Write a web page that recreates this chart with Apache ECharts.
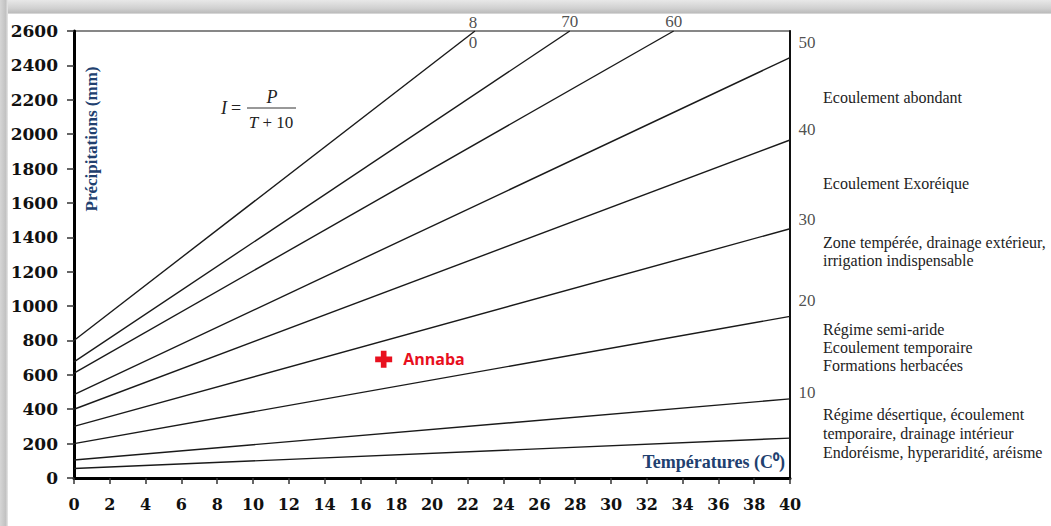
<!DOCTYPE html>
<html>
<head>
<meta charset="utf-8">
<script src="https://cdn.jsdelivr.net/npm/echarts@6/dist/echarts.min.js"></script>
<style>
html,body{margin:0;padding:0;background:#fff;}
#wrap{position:relative;width:1051px;height:526px;overflow:hidden;background:#fff;}
#topband{position:absolute;left:0;top:0;width:1051px;height:14px;background:linear-gradient(to bottom,#e8e8e8 0%,#d0d0d0 60%,#bdbdbd 90%,#e4e4e4 100%);}
#leftband{position:absolute;left:0;top:0;width:8px;height:526px;background:linear-gradient(to right,#d6d6d6 0%,#c2c2c2 70%,#e8e8e8 100%);}
#chart{position:absolute;left:0;top:0;width:1051px;height:526px;}
</style>
</head>
<body>
<div id="wrap">
  <div id="topband"></div>
  <div id="leftband"></div>
  <div id="chart"></div>
</div>
<script>
// De Martonne aridity index lines I = P / (T + 10)
const indexValues  = [80, 70, 60, 50, 40, 30, 20, 10, 5];
const startTemp    = [0, 0, 0, 0, 0, 0, 0, 0, 0];
const startPrecip  = [800, 675, 610, 485, 400, 300, 200, 105, 55];
const endTemp      = [22.4, 27.7, 33.5, 40, 40, 40, 40, 40, 40];
const endPrecip    = [2600, 2600, 2600, 2445, 1966, 1450, 940, 460, 232];

// labels of the lines that leave through the top border
const topLabelText = ['8\n0', '70', '60'];
// index labels on the right side
const sideLabelText   = ['50', '40', '30', '20', '10'];
const sideLabelPrecip = [2535, 2025, 1505, 1035, 500];

// station
const stationName   = 'Annaba';
const stationTemp   = 17.3;
const stationPrecip = 690;

// zone descriptions (right margin)
const zoneTexts = [
  'Ecoulement abondant',
  'Ecoulement Exoréique',
  'Zone tempérée, drainage extérieur,',
  'irrigation indispensable',
  'Régime semi-aride',
  'Ecoulement temporaire',
  'Formations herbacées',
  'Régime désertique, écoulement',
  'temporaire, drainage intérieur',
  'Endoréisme, hyperaridité, aréisme'
];
const zoneTextY = [97, 183, 242, 260, 329, 347, 365, 414, 433, 452];

const xAxisName = 'Températures (C⁰)';
const yAxisName = 'Précipitations (mm)';

const chart = echarts.init(document.getElementById('chart'), null, {renderer: 'svg'});

const lineSeries = indexValues.map((I, i) => ({
  type: 'line',
  name: 'I = ' + I,
  data: [[startTemp[i], startPrecip[i]], [endTemp[i], endPrecip[i]]],
  symbol: 'none',
  showSymbol: false,
  silent: true,
  lineStyle: {color: '#1a1a1a', width: 1.4},
  z: 2
}));

const topLabelSeries = {
  type: 'scatter',
  silent: true,
  symbolSize: 1,
  itemStyle: {color: 'rgba(0,0,0,0)'},
  data: topLabelText.map((t, i) => ({
    value: [endTemp[i], endPrecip[i]],
    label: i === 0
      ? {show: true, position: 'inside', formatter: t, lineHeight: 20, offset: [-2, 1]}
      : {show: true, position: 'top', distance: 1, formatter: t}
  })),
  label: {fontFamily: 'Liberation Serif', fontSize: 17, color: '#222'},
  z: 5
};

const sideLabelSeries = {
  type: 'scatter',
  silent: true,
  symbolSize: 1,
  itemStyle: {color: 'rgba(0,0,0,0)'},
  data: sideLabelText.map((t, i) => ({value: [40, sideLabelPrecip[i]], name: t})),
  label: {show: true, position: 'right', distance: 8, formatter: p => p.name,
          fontFamily: 'Liberation Serif', fontSize: 17, color: '#222'},
  z: 5
};

const stationSeries = {
  type: 'scatter',
  silent: true,
  data: [{value: [stationTemp, stationPrecip], name: stationName}],
  symbol: 'path://M6,0H12V6H18V12H12V18H6V12H0V6H6Z',
  symbolSize: 17,
  itemStyle: {color: '#e8101e', opacity: 1},
  label: {show: true, position: 'right', distance: 11, formatter: p => p.name,
          fontFamily: 'Open Sans', fontWeight: 'bold', fontSize: 16, color: '#e8101e', opacity: 1},
  z: 6
};

const graphics = [
  {type: 'text', x: 91, y: 139, rotation: Math.PI / 2,
   style: {text: yAxisName, fontFamily: 'Liberation Serif', fontWeight: 'bold', fontSize: 17,
           fill: '#21406f', textAlign: 'center', textVerticalAlign: 'middle'}},
  {type: 'text', x: 785, y: 462,
   style: {text: xAxisName, fontFamily: 'Liberation Serif', fontWeight: 'bold', fontSize: 18,
           fill: '#21406f', textAlign: 'right', textVerticalAlign: 'middle'}},
  // formula I = P / (T + 10)
  {type: 'text', x: 224, y: 108,
   style: {text: 'I', fontFamily: 'Liberation Serif', fontStyle: 'italic', fontSize: 18,
           fill: '#222', textAlign: 'center', textVerticalAlign: 'middle'}},
  {type: 'text', x: 236, y: 108,
   style: {text: '=', fontFamily: 'Liberation Serif', fontSize: 18,
           fill: '#222', textAlign: 'center', textVerticalAlign: 'middle'}},
  {type: 'text', x: 272, y: 97,
   style: {text: 'P', fontFamily: 'Liberation Serif', fontStyle: 'italic', fontSize: 18,
           fill: '#222', textAlign: 'center', textVerticalAlign: 'middle'}},
  {type: 'line', shape: {x1: 247, y1: 108, x2: 296, y2: 108},
   style: {stroke: '#333', lineWidth: 1}},
  {type: 'text', x: 271, y: 122,
   style: {text: '{i|T} + 10', fontFamily: 'Liberation Serif', fontSize: 17, fill: '#222',
           textAlign: 'center', textVerticalAlign: 'middle',
           rich: {i: {fontFamily: 'Liberation Serif', fontStyle: 'italic', fontSize: 17, fill: '#222'}}}}
].concat(zoneTexts.map((t, i) => ({
  type: 'text', x: 823, y: zoneTextY[i],
  style: {text: t, fontFamily: 'Liberation Serif', fontSize: 16, fill: '#222',
          textAlign: 'left', textVerticalAlign: 'middle'}
})));

const option = {
  animation: false,
  backgroundColor: 'transparent',
  grid: {left: 74, right: 261, top: 31, bottom: 48, show: true,
         borderColor: '#111', borderWidth: 1.2, backgroundColor: 'rgba(0,0,0,0)'},
  xAxis: {
    type: 'value', min: 0, max: 40, interval: 2,
    axisLine: {show: true, onZero: false, lineStyle: {color: '#000', width: 3}},
    axisTick: {show: true, length: 6, lineStyle: {color: '#333', width: 1.5}},
    axisLabel: {fontFamily: 'DejaVu Serif', fontWeight: 'bold', fontSize: 16, color: '#111', margin: 18,
                formatter: v => String(v)},
    splitLine: {show: false}
  },
  yAxis: [{
    type: 'value', min: 0, max: 2600, interval: 200,
    axisLine: {show: true, onZero: false, lineStyle: {color: '#000', width: 3}},
    axisTick: {show: true, length: 7, lineStyle: {color: '#333', width: 1.5}},
    axisLabel: {fontFamily: 'DejaVu Serif', fontWeight: 'bold', fontSize: 17, color: '#111', margin: 16,
                formatter: v => String(v)},
    splitLine: {show: false}
  }, {
    type: 'value', min: 0, max: 2600, interval: 200, position: 'right',
    axisLine: {show: true, onZero: false, lineStyle: {color: '#111', width: 2}},
    axisTick: {show: false}, axisLabel: {show: false}, splitLine: {show: false}
  }],
  series: lineSeries.concat([topLabelSeries, sideLabelSeries, stationSeries]),
  graphic: graphics
};
chart.setOption(option);
</script>
</body>
</html>
